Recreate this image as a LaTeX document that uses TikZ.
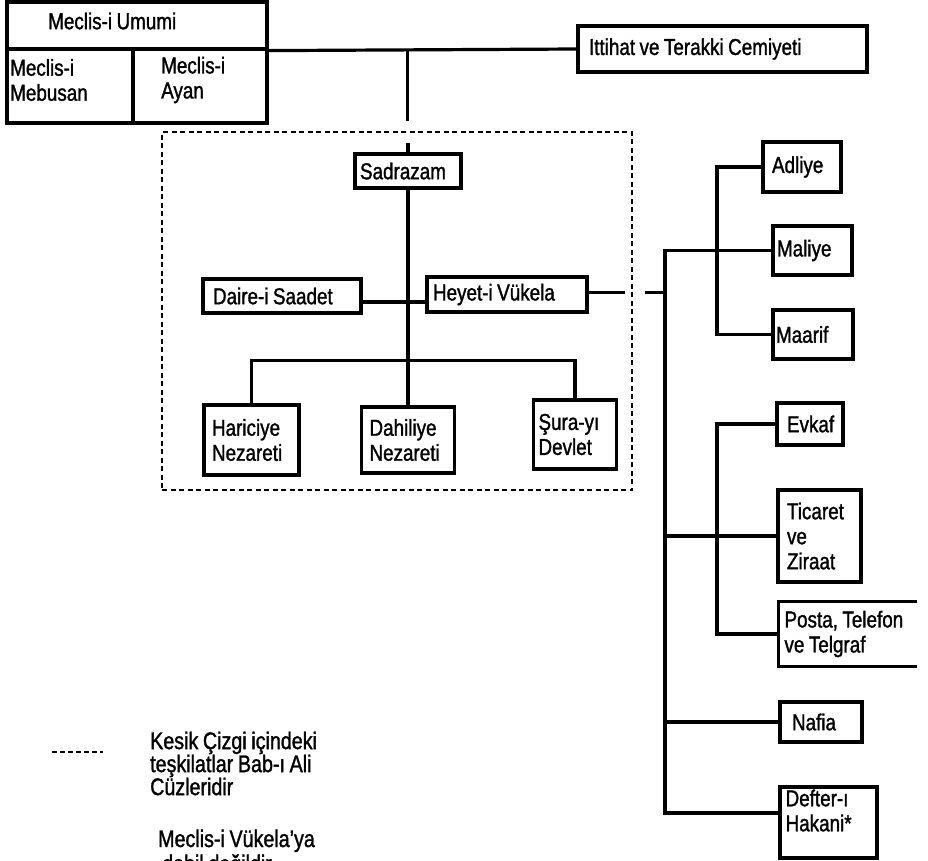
\documentclass[tikz,border=0pt]{standalone}
\usepackage{fontspec}
\setmainfont{Liberation Sans}[FakeStretch=0.82,FakeBold=1.3,WordSpace={0.85,0,0}]
\usetikzlibrary{calc}
\newcommand\boxfont{\fontsize{23}{25}\selectfont}
\newcommand\legfont{\fontsize{24}{23}\selectfont}
\begin{document}
\begin{tikzpicture}[x=1pt,y=-1pt,
  bx/.style={draw, line width=3.2pt, align=flush left, inner ysep=2pt, font=\boxfont},
  cell/.style={draw, line width=3.2pt, inner sep=0pt},
  lbl/.style={inner sep=0pt, align=flush left, font=\boxfont},
  leg/.style={inner sep=0pt, align=flush left, font=\legfont},
  conn/.style={line width=3.2pt},
  dashbox/.style={line width=2.4pt, dash pattern=on 5pt off 3.5pt},
  legdash/.style={line width=2pt, dash pattern=on 5pt off 3pt}]
\useasboundingbox (0,0) rectangle (928,860);

% parliament block
\node[cell, minimum width=260pt, minimum height=47pt] (umumi) at (137,25.5) {};
\node[cell, minimum width=126pt, minimum height=74pt] (mebusan) at (70,86) {};
\node[cell, minimum width=134pt, minimum height=74pt] (ayan) at (200,86) {};
\node[lbl, anchor=west] (umumiT) at (48,21) {Meclis-i Umumi};
\node[lbl, anchor=west] (mebusanT) at (10,80) {Meclis-i\\Mebusan};
\node[lbl, anchor=west] (ayanT) at (161,80) {Meclis-i\\Ayan};

\node[bx, text width=267pt, inner xsep=11pt, minimum height=46pt] (ittihat) at (722.5,49) {Ittihat ve Terakki Cemiyeti};

% Bab-i Ali (dashed)
\node[dashbox, draw, minimum width=470pt, minimum height=358pt, inner sep=0pt] (babiali) at (397,311) {};

\node[bx, text width=96pt, inner xsep=5pt, minimum height=34pt] (sadrazam) at (408,171) {Sadrazam};
\node[bx, text width=138pt, inner xsep=10pt, minimum height=34pt] (daire) at (282,296) {Daire-i Saadet};
\node[bx, text width=148pt, inner xsep=6pt, minimum height=35pt] (heyet) at (507,294.5) {Heyet-i Vükela};
\node[bx, text width=79pt, inner xsep=8pt, minimum height=70pt] (hariciye) at (251.5,440) {Hariciye\\Nezareti};
\node[bx, text width=77pt, inner xsep=8pt, minimum height=66pt] (dahiliye) at (408,440) {Dahiliye\\Nezareti};
\node[bx, text width=73pt, inner xsep=5pt, minimum height=69pt] (sura) at (575,434.5) {Şura-yı\\Devlet};

% ministries
\node[bx, text width=60pt, inner xsep=9pt, minimum height=50pt] (adliye) at (802,167) {Adliye};
\node[bx, text width=71pt, inner xsep=4pt, minimum height=49pt] (maliye) at (812.5,250.5) {Maliye};
\node[bx, text width=74pt, inner xsep=3pt, minimum height=49pt] (maarif) at (813,334.5) {Maarif};
\node[bx, text width=46pt, inner xsep=10pt, minimum height=42pt] (evkaf) at (810,424) {Evkaf};
\node[bx, text width=65pt, inner xsep=9pt, minimum height=92pt] (ticaret) at (819.5,536) {Ticaret\\ve\\Ziraat};
\node[bx, draw=none, text width=126pt, inner xsep=4.5pt, minimum height=62pt] (posta) at (847.5,634) {Posta, Telefon\\ve Telgraf};
\draw[conn] (posta.north east) -- (posta.north west) -- (posta.south west) -- (posta.south east);
\node[bx, text width=58pt, inner xsep=12pt, minimum height=40pt] (nafia) at (821,722) {Nafia};
\node[bx, minimum width=97pt, minimum height=71pt, inner sep=0pt] (defter) at (828.5,822.5) {};
\node[lbl, anchor=north west] (defterT) at ([xshift=7pt,yshift=-4pt]defter.north west) {Defter-ı\\Hakani*};

% connectors, top
\draw[conn] (umumi.south east) -- (ittihat.west);
\coordinate (jt) at ($(umumi.south east)!0.45!(ittihat.west)$);
\draw[conn] (jt) -- ++(0,71);

% inside Bab-i Ali
\draw[conn] (sadrazam.north) -- ++(0,-9);
\draw[conn] (sadrazam.south) -- (dahiliye.north);
\draw[conn] ([yshift=-6pt]daire.east) -- ([yshift=-6pt]daire.east -| heyet.west);
\path (sadrazam.south) ++(0,171) coordinate (bar);
\draw[conn] (hariciye.north) |- (bar) -| (sura.north);

% to ministries
\coordinate (tk) at (665,250);
\coordinate (bk) at (717,250);
\coordinate (dw) at ([yshift=9.5pt]defter.west);
\draw[conn] ([yshift=2pt]heyet.east) -- ++(36,0) coordinate (hx1);
\coordinate (hx2) at ([xshift=56pt,yshift=2pt]heyet.east);
\draw[conn] (hx2) -- (tk |- hx2);
\draw[conn] (maliye.west) -| (tk |- dw) -- (dw);
\draw[conn] (tk |- ticaret.west) -- (ticaret.west);
\draw[conn] (tk |- nafia.west) -- (nafia.west);
\draw[conn] (adliye.west) -| (bk |- maarif.west) -- (maarif.west);
\draw[conn] (evkaf.west) -| (bk |- posta.west) -- (posta.west);

% legend
\coordinate (lg1) at (52,752);
\coordinate (lg2) at (103,752);
\draw[legdash] (lg1) -- (lg2);
\node[leg, anchor=west] (legend1) at (150,763.5) {Kesik Çizgi içindeki\\teşkilatlar Bab-ı Ali\\Cüzleridir};
\node[leg, anchor=base west] (legend2) at (158,847) {Meclis-i Vükela'ya};
\node[leg, anchor=base west] (legend3) at (162,872) {dahil değildir};
\end{tikzpicture}
\end{document}
